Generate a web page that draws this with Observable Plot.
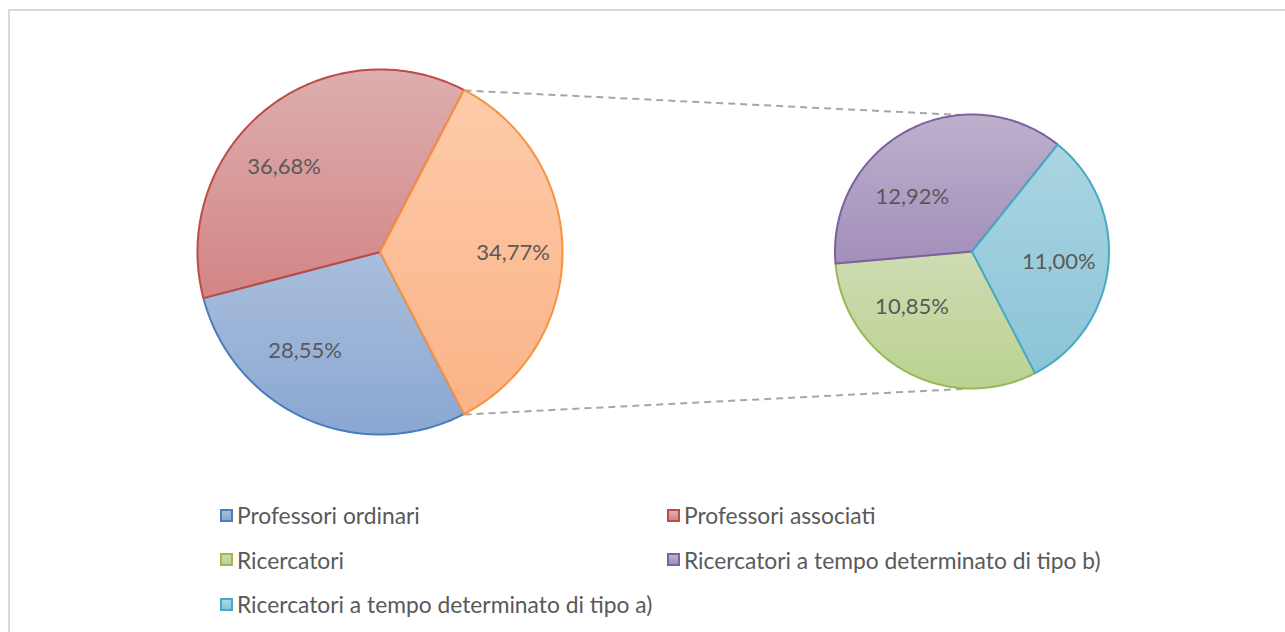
<!DOCTYPE html>
<html>
<head>
<meta charset="utf-8">
<script src="https://cdn.jsdelivr.net/npm/d3@7"></script>
<script src="https://cdn.jsdelivr.net/npm/@observablehq/plot@0.6"></script>
<style>
  html, body { margin: 0; padding: 0; background: #fff; overflow: hidden; }
  #frame { position: absolute; left: 8px; top: 9px; width: 1400px; height: 800px; border: 2px solid #d9d9d9; box-sizing: border-box; }
  #chart { position: absolute; left: 0; top: 0; }
  #legend { position: absolute; left: 220px; top: 493px; display: grid; grid-template-columns: 447px auto; grid-auto-rows: 44.5px; align-items: center; font-family: Lato, "Open Sans", sans-serif; font-size: 22.8px; color: #595959; }
  .item { display: flex; align-items: center; white-space: nowrap; }
  .sw { width: 9px; height: 9px; border: 2px solid; margin-right: 4px; flex: none; }
</style>
</head>
<body>
<div id="frame"></div>
<div id="chart"></div>
<div id="legend"></div>
<script>
// ---- data ----
const mainCategories = ["Professori ordinari", "Professori associati"];
const mainValues = [28.55, 36.68];
const otherLabel = "Altro";
const secondCategories = ["Ricercatori", "Ricercatori a tempo determinato di tipo b)", "Ricercatori a tempo determinato di tipo a)"];
const secondValues = [10.85, 12.92, 11.00];
const legendCategories = ["Professori ordinari", "Professori associati", "Ricercatori", "Ricercatori a tempo determinato di tipo b)", "Ricercatori a tempo determinato di tipo a)"];

// ---- styles ----
const palette = {
  "Professori ordinari": {top: "#aabedc", bottom: "#8aa7d2", stroke: "#4a7ebb"},
  "Professori associati": {top: "#ddaeae", bottom: "#d38585", stroke: "#be4b48"},
  "Altro": {top: "#fdcba9", bottom: "#fbb387", stroke: "#f69240"},
  "Ricercatori": {top: "#cedcb2", bottom: "#bbd292", stroke: "#98b954"},
  "Ricercatori a tempo determinato di tipo b)": {top: "#bdb0cc", bottom: "#a28fbb", stroke: "#7d60a0"},
  "Ricercatori a tempo determinato di tipo a)": {top: "#abd5e1", bottom: "#8bc4d8", stroke: "#46aac5"}
};

const W = 1285, H = 480;
const C1 = {x: 380, y: 252, r: 182.5, labelR: 96};
const C2 = {x: 972, y: 251.5, r: 137, labelR: 50};
const LABEL_W = 73, LABEL_H = 22;

const otherValue = d3.sum(secondValues);
const allMainValues = [...mainValues, otherValue];
const allMainCats = [...mainCategories, otherLabel];

// first-slice angle chosen so that the "other" slice is centred facing the secondary pie
const total = d3.sum(allMainValues);
const startAngle = Math.PI / 2 - 2 * Math.PI * (d3.sum(mainValues) + otherValue / 2) / total;

const clamp = v => Math.max(-1, Math.min(1, v));

function slices(values, keys, c, start) {
  const pie = d3.pie().sort(null).startAngle(start).endAngle(start + 2 * Math.PI);
  return pie(values).map((a, i) => {
    const n = Math.max(2, Math.ceil((a.endAngle - a.startAngle) / (Math.PI / 180)));
    const pts = d3.range(n + 1).map(k => {
      const t = a.startAngle + (a.endAngle - a.startAngle) * k / n;
      return {x: c.x + c.r * Math.sin(t), y: c.y - c.r * Math.cos(t), cx: c.x, cy: c.y};
    });
    const mid = (a.startAngle + a.endAngle) / 2;
    // anchor on the bisector; label box hangs away from the centre (corner alignment)
    const ax = c.x + c.labelR * Math.sin(mid);
    const ay = c.y - c.labelR * Math.cos(mid);
    return {
      key: keys[i], value: values[i], pts, a0: a.startAngle, a1: a.endAngle,
      lx: ax + LABEL_W / 2 * clamp(5 * Math.sin(mid)),
      ly: ay + LABEL_H / 2 * clamp(-5 * Math.cos(mid))
    };
  });
}

const main = slices(allMainValues, allMainCats, C1, startAngle);
const second = slices(secondValues, secondCategories, C2, startAngle);
const other = main[main.length - 1];

const connectors = [
  {x1: C1.x + C1.r * Math.sin(other.a0), y1: C1.y - C1.r * Math.cos(other.a0), x2: C2.x - 5, y2: C2.y - C2.r + 0.3},
  {x1: C1.x + C1.r * Math.sin(other.a1), y1: C1.y - C1.r * Math.cos(other.a1), x2: C2.x - 5, y2: C2.y + C2.r - 0.3}
];

const loc = d3.formatLocale({decimal: ",", thousands: ".", grouping: [3], currency: ["", "€"]});
const fmt = loc.format(".2f");

const allSlices = [...main, ...second];
const gradId = k => "grad-" + Object.keys(palette).indexOf(k);

const marks = [
  Plot.link(connectors, {x1: "x1", y1: "y1", x2: "x2", y2: "y2", stroke: "#a6a6a6", strokeWidth: 2, strokeDasharray: "7,5"}),
  ...allSlices.map(s => Plot.area(s.pts, {
    x1: "x", y1: "y", x2: "cx", y2: "cy", curve: "linear",
    fill: `url(#${gradId(s.key)})`, stroke: palette[s.key].stroke, strokeWidth: 2, strokeLinejoin: "round"
  })),
  Plot.text(allSlices, {x: "lx", y: "ly", text: d => fmt(d.value) + "%", fill: "#595959", fontSize: 22, fontFamily: "Lato, 'Open Sans', sans-serif"})
];

const svg = Plot.plot({
  width: W, height: H, margin: 0,
  x: {type: "linear", domain: [0, W], range: [0, W], axis: null},
  y: {type: "linear", domain: [0, H], range: [0, H], axis: null},
  style: {background: "transparent", overflow: "visible"},
  marks
});

const defs = d3.select(svg).insert("defs", ":first-child");
Object.entries(palette).forEach(([k, p]) => {
  const g = defs.append("linearGradient").attr("id", gradId(k)).attr("x1", 0).attr("y1", 0).attr("x2", 0).attr("y2", 1);
  g.append("stop").attr("offset", "0%").attr("stop-color", p.top);
  g.append("stop").attr("offset", "100%").attr("stop-color", p.bottom);
});

document.getElementById("chart").appendChild(svg);

const legend = d3.select("#legend");
legendCategories.forEach(k => {
  const it = legend.append("div").attr("class", "item");
  it.append("div").attr("class", "sw")
    .style("border-color", palette[k].stroke)
    .style("background", `linear-gradient(${palette[k].top}, ${palette[k].bottom})`);
  it.append("span").text(k);
});
</script>
</body>
</html>
